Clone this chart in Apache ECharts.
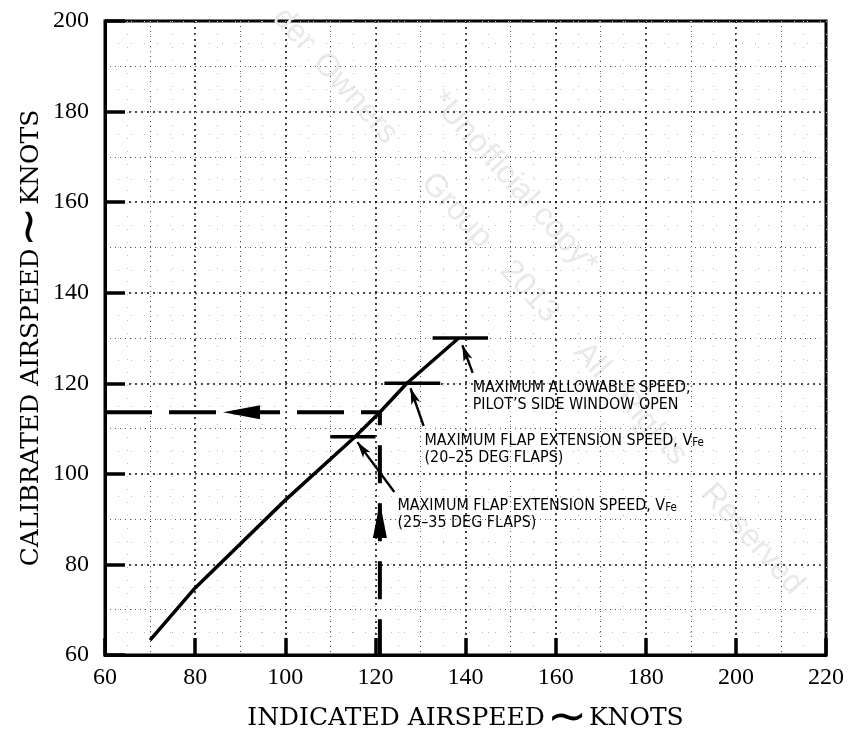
<!DOCTYPE html>
<html>
<head>
<meta charset="utf-8">
<script src="https://cdn.jsdelivr.net/npm/echarts@6/dist/echarts.min.js"></script>
<style>
html,body{margin:0;padding:0;background:#fff;}
#chart{width:855px;height:735px;}
</style>
</head>
<body>
<div id="chart"></div>
<script>
// ---- data ----
var xTicks = [60, 80, 100, 120, 140, 160, 180, 200, 220];
var yTicks = [60, 80, 100, 120, 140, 160, 180, 200];

// calibration curve: indicated (IAS) vs calibrated (CAS) airspeed, knots
var curveIAS = [70, 80, 100, 115.5, 121, 127, 138.5];
var curveCAS = [63.3, 74.8, 94.2, 108.2, 113.6, 120, 130];

// speed limit bars: [IAS start, IAS end, CAS]
var barFlap2535 = [110, 120, 108.2];
var barFlap2025 = [122, 134.4, 120];
var barWindow   = [132.7, 145, 130];

// example reading (dashed): IAS 121 -> CAS 113.6
var exampleIAS = 121;
var exampleCAS = 113.6;
var arrowLeftAt = [90.3, 113.6];
var arrowUpAt   = [121, 89.8];

// annotation leader arrows: [fromIAS, fromCAS, toIAS, toCAS]
var leaderWindow = [141.6, 122.3, 139.3, 128.4];
var leader2025   = [130.7, 110.6, 127.8, 118.9];
var leader2535   = [124.2, 96.0, 116.0, 107.0];

// annotation texts anchored at [IAS, CAS]
var noteIAS = [141.6, 130.9, 124.9];
var noteCAS = [117.1, 105.4, 91.1];
var noteText = [
  '{n|MAXIMUM ALLOWABLE SPEED,}\n{n|PILOT\u2019S SIDE WINDOW OPEN}',
  '{n|MAXIMUM FLAP EXTENSION SPEED, V}{s|Fe}\n{n|(20\u201325 DEG FLAPS)}',
  '{n|MAXIMUM FLAP EXTENSION SPEED, V}{s|Fe}\n{n|(25\u201335 DEG FLAPS)}'
];

var xTitle = 'INDICATED AIRSPEED';
var yTitle = 'CALIBRATED AIRSPEED';
var unit = 'KNOTS';

// watermark words and their offsets along the diagonal
var wmWords = ['der', 'Owners', 'Group', '2013', 'All', 'Rights', 'Reserved'];
var wmOffsets = [0, 60, 222, 340, 450, 512, 640];
var wmLine2 = '*Unofficial copy*';

// ---- build ----
function pairs(xs, ys){ return xs.map(function(x,i){ return [x, ys[i]]; }); }
function bar(b){ return [[b[0], b[2]], [b[1], b[2]]]; }
function leader(l){ return [{coord:[l[0], l[1]]}, {coord:[l[2], l[3]]}]; }

var serif = 'Liberation Serif';
var titleSerif = 'DejaVu Serif';
var sans = '"DejaVu Sans Condensed", "Liberation Sans"';
var black = '#000';

var chart = echarts.init(document.getElementById('chart'), null, {renderer:'canvas'});
var titleRich = {
  a: {fontFamily: titleSerif, fontSize: 25, color: black},
  t: {fontFamily: serif, fontSize: 48, color: black, padding:[0,2,0,2]}
};
var wmFont = '32px "Liberation Sans"';
var wmAng = 48*Math.PI/180;
var wmStart = [290, 2];
var graphics = wmWords.map(function(w, i){
  return {type:'text', x: wmStart[0] + Math.cos(wmAng)*wmOffsets[i], y: wmStart[1] + Math.sin(wmAng)*wmOffsets[i],
    rotation: -wmAng, silent: true, z: 0, style: {text: w, font: wmFont, fill: '#e9e9e9'}};
});
graphics.push({type:'text', x: 448, y: 86, rotation: -wmAng, silent:true, z: 0,
  style:{text: wmLine2, font: wmFont, fill:'#e9e9e9'}});

var option = {
  backgroundColor: '#fff',
  animation: false,
  grid: {left: 105, right: 29, top: 21, bottom: 80, containLabel: false, outerBoundsMode: 'none',
         show: true, borderColor: black, borderWidth: 3, backgroundColor:'transparent'},
  xAxis: [{
    type: 'value', min: xTicks[0], max: xTicks[xTicks.length-1], interval: 20,
    name: '{a|' + xTitle + '}{t|\u223C}{a|' + unit + '}',
    nameLocation: 'middle', nameGap: 36,
    nameTextStyle: {rich: titleRich},
    axisLine: {show: true, lineStyle: {color: black, width: 3}},
    axisTick: {show: true, inside: true, length: 17, lineStyle: {color: black, width: 3.5}},
    axisLabel: {margin: 11, fontFamily: serif, fontSize: 24, color: black},
    splitLine: {show: true, lineStyle: {color: '#111', width: 1.6, type: [2, 4]}},
    minorTick: {show: false, splitNumber: 2},
    minorSplitLine: {show: true, lineStyle: {color: '#555', width: 1, type: [1, 4]}}
  },{
    type: 'value', min: 60, max: 220, interval: 5, show: true, position: 'bottom',
    axisLine: {show: false}, axisTick: {show: false}, axisLabel: {show: false},
    splitLine: {show: true, lineStyle: {color: '#bbb', width: 1, type: [1, 12]}}
  }],
  yAxis: [{
    type: 'value', min: yTicks[0], max: yTicks[yTicks.length-1], interval: 20,
    name: '{a|' + yTitle + '}{t|\u223C}{a|' + unit + '}',
    nameLocation: 'middle', nameGap: 50, nameRotate: 90, nameMoveOverlap: false,
    nameTextStyle: {rich: titleRich},
    axisLine: {show: true, lineStyle: {color: black, width: 3}},
    axisTick: {show: true, inside: true, length: 20, lineStyle: {color: black, width: 3.5}},
    axisLabel: {margin: 16, fontFamily: serif, fontSize: 24, color: black},
    splitLine: {show: true, lineStyle: {color: '#111', width: 1.6, type: [2, 4]}},
    minorTick: {show: false, splitNumber: 2},
    minorSplitLine: {show: true, lineStyle: {color: '#555', width: 1, type: [1, 4]}}
  },{
    type: 'value', min: 60, max: 200, interval: 5, show: true, position: 'left',
    axisLine: {show: false}, axisTick: {show: false}, axisLabel: {show: false},
    splitLine: {show: true, lineStyle: {color: '#bbb', width: 1, type: [1, 12]}}
  }],
  graphic: graphics,
  series: [
    {type:'line', name:'curve', data: pairs(curveIAS, curveCAS), showSymbol:false, symbol:'none',
     lineStyle:{color: black, width: 3.5}, z: 5},
    {type:'line', data: bar(barFlap2535), symbol:'none', lineStyle:{color: black, width: 3.5}, z: 5},
    {type:'line', data: bar(barFlap2025), symbol:'none', lineStyle:{color: black, width: 3.5}, z: 5},
    {type:'line', data: bar(barWindow), symbol:'none', lineStyle:{color: black, width: 3.5}, z: 5},
    {type:'line', data: [[60, exampleCAS], [exampleIAS, exampleCAS]], symbol:'none',
     lineStyle:{color: black, width: 4, type: [47, 17]}, z: 4},
    {type:'line', data: [[exampleIAS, exampleCAS], [exampleIAS, 60]], symbol:'none',
     lineStyle:{color: black, width: 4, type: [38, 20], dashOffset: 25}, z: 4},
    {type:'scatter', data: [arrowLeftAt], symbol:'triangle', symbolSize:[14, 37], symbolRotate: 90,
     itemStyle:{color: black, opacity: 1}, z: 6},
    {type:'scatter', data: [arrowUpAt], symbol:'triangle', symbolSize:[14, 36], symbolRotate: 0,
     itemStyle:{color: black, opacity: 1}, z: 6},
    {type:'line', data: [], symbol:'none',
     markLine: {silent:true, symbol:['none','arrow'], symbolSize:[7, 16], label:{show:false},
       lineStyle:{color: black, width: 2.4, type:'solid', opacity: 1},
       data: [leader(leaderWindow), leader(leader2025), leader(leader2535)]}, z: 6},
    {type:'scatter', symbolSize: 0, itemStyle:{opacity: 1},
     data: noteIAS.map(function(x,i){ return {value:[x, noteCAS[i]], label:{formatter: noteText[i]}}; }),
     label: {show: true, position: 'right', distance: 0, color: black, opacity: 1,
       rich: {
         n: {fontFamily: sans, fontSize: 15.9, lineHeight: 17, color: black},
         s: {fontFamily: sans, fontSize: 11.5, lineHeight: 17, color: black, verticalAlign:'bottom', padding:[9,0,0,0]}
       }}, z: 7}
  ]
};
chart.setOption(option);
</script>
</body>
</html>
